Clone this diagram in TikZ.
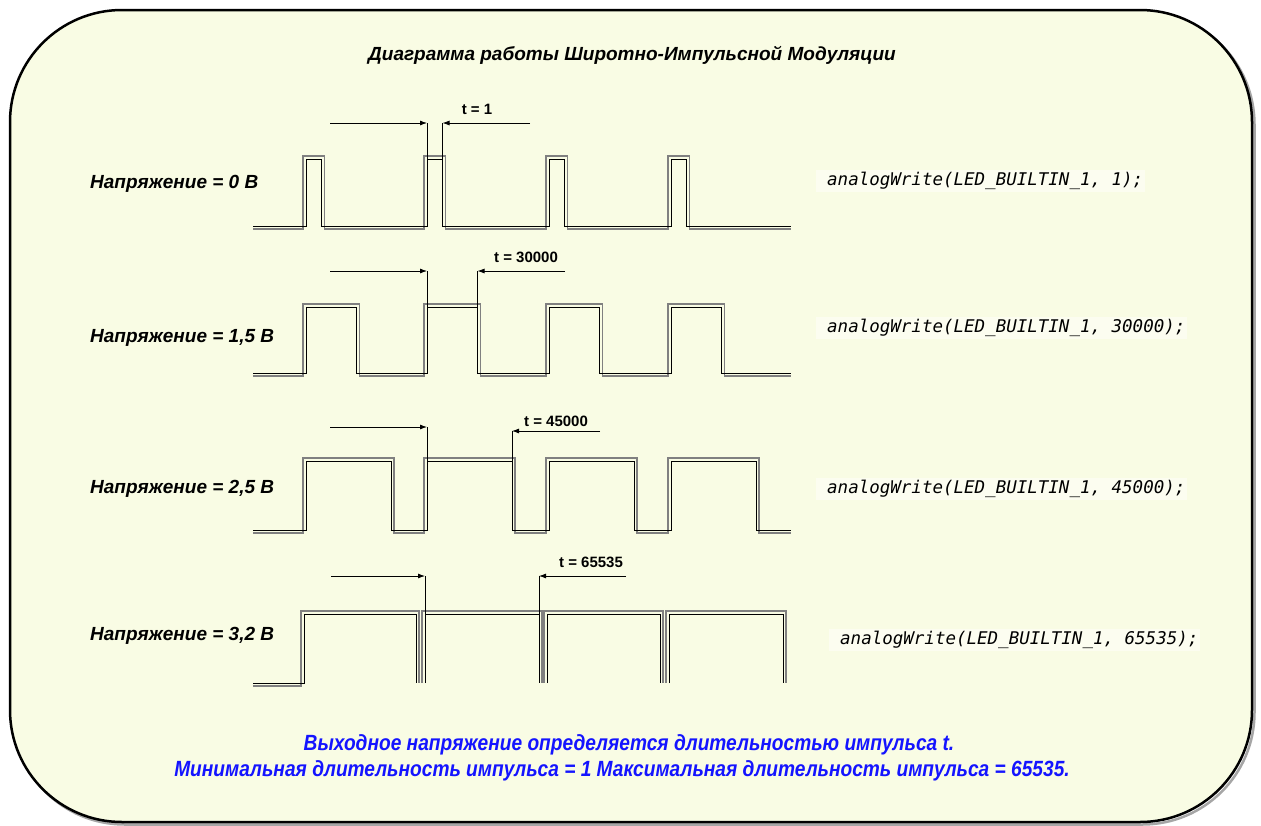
\documentclass[tikz,border=0pt]{standalone}
\usepackage{fontspec}
\setmainfont{Liberation Sans}
\newfontfamily\codefont{DejaVu Sans Mono}
\newfontfamily\narrowfont[FakeStretch=0.87]{Liberation Sans}
\usetikzlibrary{arrows.meta}

\definecolor{panelbg}{RGB}{249,252,228}
\definecolor{codebg}{RGB}{252,253,240}
\definecolor{noteblue}{RGB}{20,20,255}

\tikzset{
  wave/.style={draw=black, line width=0.9pt},
  waveshade/.style={draw=black!50, line width=1.1pt},
  dimarrow/.style={draw=black, line width=0.8pt, -{Latex[length=7pt,width=5pt]}},
  dimline/.style={draw=black, line width=0.8pt},
  voltlabel/.style={anchor=west, inner sep=0pt, font=\fontsize{19}{22}\selectfont\bfseries\itshape},
  codelabel/.style={anchor=west, inner sep=2pt, fill=codebg, font=\fontsize{17.5}{20}\selectfont\codefont\itshape},
  tlabel/.style={inner sep=0pt, font=\fontsize{15}{17}\selectfont\bfseries},
  notetext/.style={inner sep=0pt, text=noteblue, font=\fontsize{22}{25}\selectfont\narrowfont\bfseries\itshape},
}

% square wave on a common baseline: #1 baseline y, #2 top y, #3 pulse width
\newcommand\pwmrow[3]{%
  \foreach \d/\sty in {3/waveshade,0/wave}{%
    \draw[\sty] (253,#1+\d)
      \foreach \r in {306,427,549,671}{
        -- (\r-\d,#1+\d) -- (\r-\d,#2-\d) -- (\r+#3+\d,#2-\d) -- (\r+#3+\d,#1+\d)
      } -- (791,#1+\d);
  }%
}

\begin{document}
\begin{tikzpicture}[x=1pt,y=-1pt]
\useasboundingbox (0,0) rectangle (1261,825);

% panel
\draw[black!35, line width=2.5pt, rounded corners=112pt] (12.5,12.5) rectangle (1254.5,824.5);
\draw[black, line width=2.5pt, fill=panelbg, rounded corners=112pt] (10,10) rectangle (1252,822);

\node (title) at (632,55) {\fontsize{19}{22}\selectfont\bfseries\itshape Диаграмма работы Широтно-Импульсной Модуляции};

% ---- row 1: 0 V
\node[voltlabel] (lab1) at (90,184) {Напряжение = 0 В};
\pwmrow{226}{159}{15.5}
\coordinate (r1a) at (330,123);  \coordinate (r1b) at (427,123);  \coordinate (r1c) at (427,159);
\coordinate (r1d) at (530,123);  \coordinate (r1e) at (442.5,123); \coordinate (r1f) at (442.5,159);
\draw[dimarrow] (r1a) -- (r1b);
\draw[dimline] (r1b) -- (r1c);
\draw[dimarrow] (r1d) -- (r1e);
\draw[dimline] (r1e) -- (r1f);
\node[tlabel] (tl1) at (477,109) {t = 1};
\node[codelabel] (code1) at (816,181) {\hspace*{9pt}analogWrite(LED\_BUILTIN\_1, 1);};

% ---- row 2: 1,5 V
\node[voltlabel] (lab2) at (90,338) {Напряжение = 1,5 В};
\pwmrow{373}{307}{50.5}
\coordinate (r2a) at (330,271);  \coordinate (r2b) at (427,271);  \coordinate (r2c) at (427,307);
\coordinate (r2d) at (565,271);  \coordinate (r2e) at (477.5,271); \coordinate (r2f) at (477.5,307);
\draw[dimarrow] (r2a) -- (r2b);
\draw[dimline] (r2b) -- (r2c);
\draw[dimarrow] (r2d) -- (r2e);
\draw[dimline] (r2e) -- (r2f);
\node[tlabel] (tl2) at (526,257) {t = 30000};
\node[codelabel] (code2) at (816,328) {\hspace*{9pt}analogWrite(LED\_BUILTIN\_1, 30000);};

% ---- row 3: 2,5 V
\node[voltlabel] (lab3) at (90,489) {Напряжение = 2,5 В};
\pwmrow{530}{461}{85}
\coordinate (r3a) at (330,427);  \coordinate (r3b) at (427,427);  \coordinate (r3c) at (427,461);
\coordinate (r3d) at (600,431);  \coordinate (r3e) at (512,431);  \coordinate (r3f) at (512,461);
\draw[dimarrow] (r3a) -- (r3b);
\draw[dimline] (r3b) -- (r3c);
\draw[dimarrow] (r3d) -- (r3e);
\draw[dimline] (r3e) -- (r3f);
\node[tlabel] (tl3) at (556,421.5) {t = 45000};
\node[codelabel] (code3) at (816,489) {\hspace*{9pt}analogWrite(LED\_BUILTIN\_1, 45000);};

% ---- row 4: 3,2 V (pulses almost fill the period)
\node[voltlabel] (lab4) at (90,636) {Напряжение = 3,2 В};
\foreach \d/\sty in {3/waveshade,0/wave}{
  \draw[\sty] (253,683+\d) -- (304-\d,683+\d) -- (304-\d,614-\d) -- (416+\d,614-\d) -- (416+\d,683);
  \foreach \r/\f in {425/539,547/660,669/783}{
    \draw[\sty] (\r-\d,683) -- (\r-\d,614-\d) -- (\f+\d,614-\d) -- (\f+\d,683);
  }
}
\coordinate (r4a) at (331,576);  \coordinate (r4b) at (425,576);  \coordinate (r4c) at (425,614);
\coordinate (r4d) at (626,576);  \coordinate (r4e) at (539,576);  \coordinate (r4f) at (539,614);
\draw[dimarrow] (r4a) -- (r4b);
\draw[dimline] (r4b) -- (r4c);
\draw[dimarrow] (r4d) -- (r4e);
\draw[dimline] (r4e) -- (r4f);
\node[tlabel] (tl4) at (591,562) {t = 65535};
\node[codelabel] (code4) at (829,640) {\hspace*{9pt}analogWrite(LED\_BUILTIN\_1, 65535);};

% explanatory note
\node[notetext] (note1) at (629,745) {Выходное напряжение определяется длительностью импульса t.};
\node[notetext] (note2) at (622,771) {Минимальная длительность импульса = 1 Максимальная длительность импульса = 65535.};
\end{tikzpicture}
\end{document}
